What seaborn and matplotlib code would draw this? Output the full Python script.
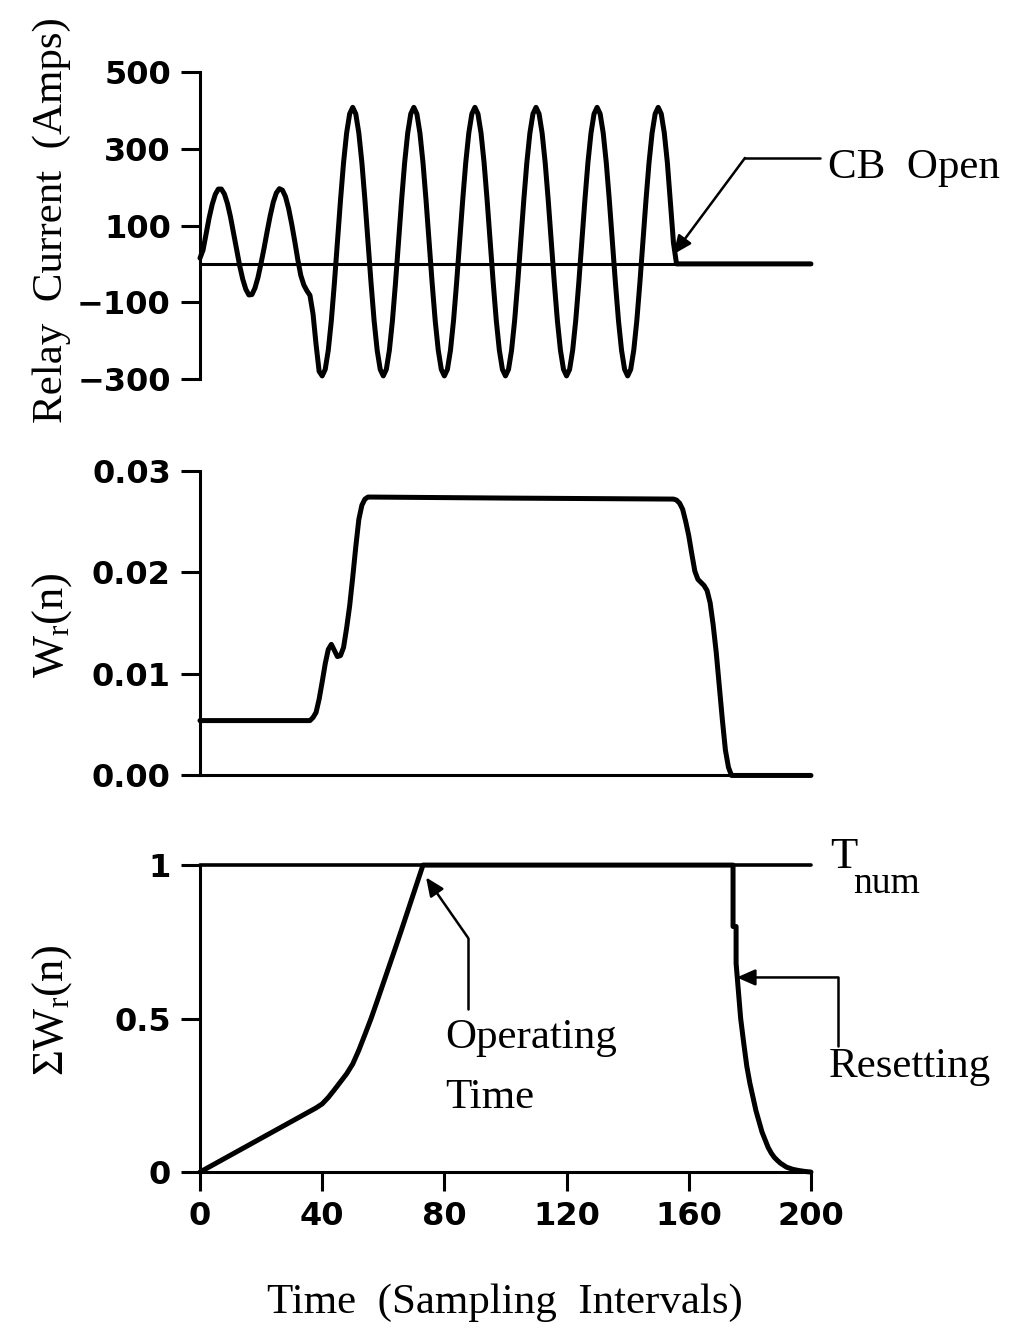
import matplotlib
matplotlib.use('Agg')
import matplotlib.pyplot as plt
import seaborn as sns

# ---------------- data ----------------
# Panel 1: relay current (A), one value per sampling interval, 0..156, then 200
cur_prefault = [15, 36, 78, 120, 155, 181, 195, 195, 182, 157,
                122, 80, 37, -5, -40, -66, -81, -80, -63, -35,
                2, 42, 85, 126, 161, 185, 196, 192, 175, 145,
                105, 60, 12, -30, -55, -70, -82, -130, -210, -280]
cur_cycle1 = [-292, -275, -225, -148, -50, 58, 166, 264, 341, 391,
              408, 391, 341, 264, 166, 58, -50, -148, -225, -275]
cur_cycle2 = [-292, -275, -225, -148, -50, 58, 166, 264, 341, 391,
              408, 391, 341, 264, 166, 58, -50, -148, -225, -275]
cur_cycle3 = [-292, -275, -225, -148, -50, 58, 166, 264, 341, 391,
              408, 391, 341, 264, 166, 58, -50, -148, -225, -275]
cur_cycle4 = [-292, -275, -225, -148, -50, 58, 166, 264, 341, 391,
              408, 391, 341, 264, 166, 58, -50, -148, -225, -275]
cur_cycle5 = [-292, -275, -225, -148, -50, 58, 166, 264, 341, 391,
              408, 391, 341, 264, 166, 58, -50, -148, -225, -275]
cur_last = [-292, -275, -225, -148, -50, 58, 166, 264, 341, 391,
            408, 391, 341, 264, 160, 55, 0]
cur_after_open = [0]
t_cur = list(range(0, 157)) + [200]
i_cur = (cur_prefault + cur_cycle1 + cur_cycle2 + cur_cycle3 + cur_cycle4
         + cur_cycle5 + cur_last + cur_after_open)

# Panel 2: W_r(n)
t_w = [0, 36, 37, 38, 39, 40, 41, 42, 43, 44, 45, 46, 47, 48, 49, 50, 51, 52,
       53, 54, 55, 56, 100, 155, 156, 157, 158, 159, 160, 161, 162, 163, 164,
       165, 166, 167, 168, 169, 170, 171, 172, 173, 174, 200]
w_r = [0.0054, 0.0054, 0.0057, 0.0062, 0.0075, 0.0092, 0.0110, 0.0124, 0.0129,
       0.0123, 0.0117, 0.0118, 0.0126, 0.0145, 0.0167, 0.0195, 0.0225, 0.0252,
       0.0266, 0.0272, 0.0274, 0.0274, 0.0273, 0.0272, 0.0271, 0.0268, 0.0262,
       0.0250, 0.0236, 0.0218, 0.0201, 0.0193, 0.0190, 0.0187, 0.0182, 0.0170,
       0.0148, 0.0121, 0.0088, 0.0055, 0.0025, 0.0008, 0.0, 0.0]

# Panel 3: sum of W_r(n)
t_sum = [0, 10, 20, 30, 38, 40, 42, 44, 46, 48, 50, 52, 54, 56, 58, 60, 62, 64,
         66, 68, 70, 72, 73, 100, 174.5, 174.5, 175.5, 175.5, 176, 177, 178,
         179, 180, 181, 182, 183, 184, 185, 186, 187, 188, 189, 190, 192, 194,
         196, 198, 200]
s_w = [0, 0.055, 0.11, 0.165, 0.209, 0.222, 0.243, 0.268, 0.294, 0.32, 0.352,
       0.397, 0.448, 0.50, 0.557, 0.615, 0.673, 0.731, 0.79, 0.85, 0.91, 0.97,
       1.0, 1.0, 1.0, 0.80, 0.80, 0.68, 0.62, 0.50, 0.42, 0.345, 0.29, 0.245,
       0.20, 0.165, 0.13, 0.105, 0.08, 0.062, 0.048, 0.038, 0.029, 0.016,
       0.009, 0.005, 0.002, 0.0]
t_num = 1.0

# tick labels
x_ticks = [0, 40, 80, 120, 160, 200]
y1_ticks = [500, 300, 100, -100, -300]
y2_ticks = [0.0, 0.01, 0.02, 0.03]
y2_labels = ['0.00', '0.01', '0.02', '0.03']
y3_ticks = [0, 0.5, 1]
y3_labels = ['0', '0.5', '1']

# ---------------- style ----------------
sns.set_theme(style='white')
plt.rcParams['font.family'] = ['DejaVu Sans']
plt.rcParams['axes.edgecolor'] = 'black'
plt.rcParams['text.color'] = 'black'
plt.rcParams['axes.labelcolor'] = 'black'
plt.rcParams['xtick.color'] = 'black'
plt.rcParams['ytick.color'] = 'black'
plt.rcParams['mathtext.fontset'] = 'custom'
plt.rcParams['mathtext.rm'] = 'Liberation Serif'
plt.rcParams['mathtext.it'] = 'Liberation Serif'
plt.rcParams['mathtext.bf'] = 'Liberation Serif:bold'
SERIF = 'Liberation Serif'
LW = 3.6
SPW = 2.2
TXT = 31

fig = plt.figure(figsize=(10.09, 13.34), dpi=100)
fig.patch.set_facecolor('white')
L, Wd = 0.1982, 0.6055
ax1 = fig.add_axes([L, 0.7159, Wd, 0.2301])
ax2 = fig.add_axes([L, 0.4187, Wd, 0.2285])
ax3 = fig.add_axes([L, 0.1214, Wd, 0.2301])

for ax in (ax1, ax2, ax3):
    ax.set_facecolor('white')
    ax.set_xlim(0, 200)
    for s in ('top', 'right'):
        ax.spines[s].set_visible(False)
    for s in ('left', 'bottom'):
        ax.spines[s].set_linewidth(SPW)
        ax.spines[s].set_color('black')
    ax.tick_params(axis='both', direction='out', length=14, width=SPW,
                   labelsize=23, pad=7, colors='black', left=True)

# Panel 1
sns.lineplot(x=t_cur, y=i_cur, ax=ax1, color='black', linewidth=LW,
             estimator=None, sort=False)
ax1.axhline(0, color='black', lw=SPW)
ax1.set_ylim(-300, 500)
ax1.set_yticks(y1_ticks)
ax1.spines['bottom'].set_visible(False)
ax1.set_xticks([])
ax1.plot([203, 178.4], [276, 276], color='black', lw=1.8, clip_on=False)
ax1.annotate('', xy=(155, 25), xytext=(178.4, 276),
             arrowprops=dict(arrowstyle='-|>,head_length=0.8,head_width=0.35',
                             color='black', lw=1.8, mutation_scale=14,
                             shrinkA=0, shrinkB=0), annotation_clip=False)
ax1.text(205.6, 225, 'CB  Open', fontfamily=SERIF, fontsize=TXT,
         va='baseline', ha='left', color='black', clip_on=False)

# Panel 2
sns.lineplot(x=t_w, y=w_r, ax=ax2, color='black', linewidth=LW,
             estimator=None, sort=False)
ax2.set_ylim(0, 0.03)
ax2.set_yticks(y2_ticks, labels=y2_labels)
ax2.set_xticks([])

# Panel 3
ax3.axhline(t_num, color='black', lw=2.6, clip_on=False)
sns.lineplot(x=t_sum, y=s_w, ax=ax3, color='black', linewidth=LW,
             estimator=None, sort=False)
ax3.set_ylim(0, 1)
ax3.set_yticks(y3_ticks, labels=y3_labels)
ax3.set_xticks(x_ticks)
ax3.tick_params(axis='x', bottom=True)

for ax in (ax1, ax2, ax3):
    for ln in ax.lines:
        ln.set_clip_on(False)
    for lbl in ax.get_yticklabels() + ax.get_xticklabels():
        lbl.set_fontweight('bold')
    ax.set_xlabel('')
    ax.set_ylabel('')

ax3.text(206.2, 0.99, 'T', fontfamily=SERIF, fontsize=32, va='baseline',
         ha='left', clip_on=False)
ax3.text(213.7, 0.909, 'num', fontfamily=SERIF, fontsize=27, va='baseline',
         ha='left', clip_on=False)

ax3.plot([87.7, 87.7], [0.53, 0.764], color='black', lw=1.8, clip_on=False)
ax3.annotate('', xy=(74, 0.96), xytext=(87.7, 0.764),
             arrowprops=dict(arrowstyle='-|>,head_length=0.8,head_width=0.35',
                             color='black', lw=1.8, mutation_scale=14,
                             shrinkA=0, shrinkB=0), annotation_clip=False)
ax3.text(80.2, 0.405, 'Operating', fontfamily=SERIF, fontsize=TXT,
         va='baseline', ha='left')
ax3.text(80.2, 0.21, 'Time', fontfamily=SERIF, fontsize=TXT,
         va='baseline', ha='left')

ax3.plot([208.7, 208.7], [0.411, 0.634], color='black', lw=1.8, clip_on=False)
ax3.annotate('', xy=(175.7, 0.634), xytext=(208.7, 0.634),
             arrowprops=dict(arrowstyle='-|>,head_length=0.8,head_width=0.35',
                             color='black', lw=1.8, mutation_scale=14,
                             shrinkA=0, shrinkB=0), annotation_clip=False)
ax3.text(205.7, 0.31, 'Resetting', fontfamily=SERIF, fontsize=TXT,
         va='baseline', ha='left', clip_on=False)

# axis labels
fig.text(52 / 1009, 1 - 220 / 1334, 'Relay  Current  (Amps)', rotation=90,
         ha='center', va='center', fontsize=TXT, fontfamily=SERIF)
fig.text(52 / 1009, 1 - 625 / 1334, r'$\mathrm{W_r(n)}$', rotation=90,
         ha='center', va='center', fontsize=32)
fig.text(52 / 1009, 1 - 1010 / 1334, r'$\mathrm{\Sigma W_r(n)}$', rotation=90,
         ha='center', va='center', fontsize=32)
fig.text(505 / 1009, 1 - 1303 / 1334, 'Time  (Sampling  Intervals)',
         ha='center', va='center', fontsize=TXT, fontfamily=SERIF)

fig.savefig('out.png', dpi=100, facecolor='white')
